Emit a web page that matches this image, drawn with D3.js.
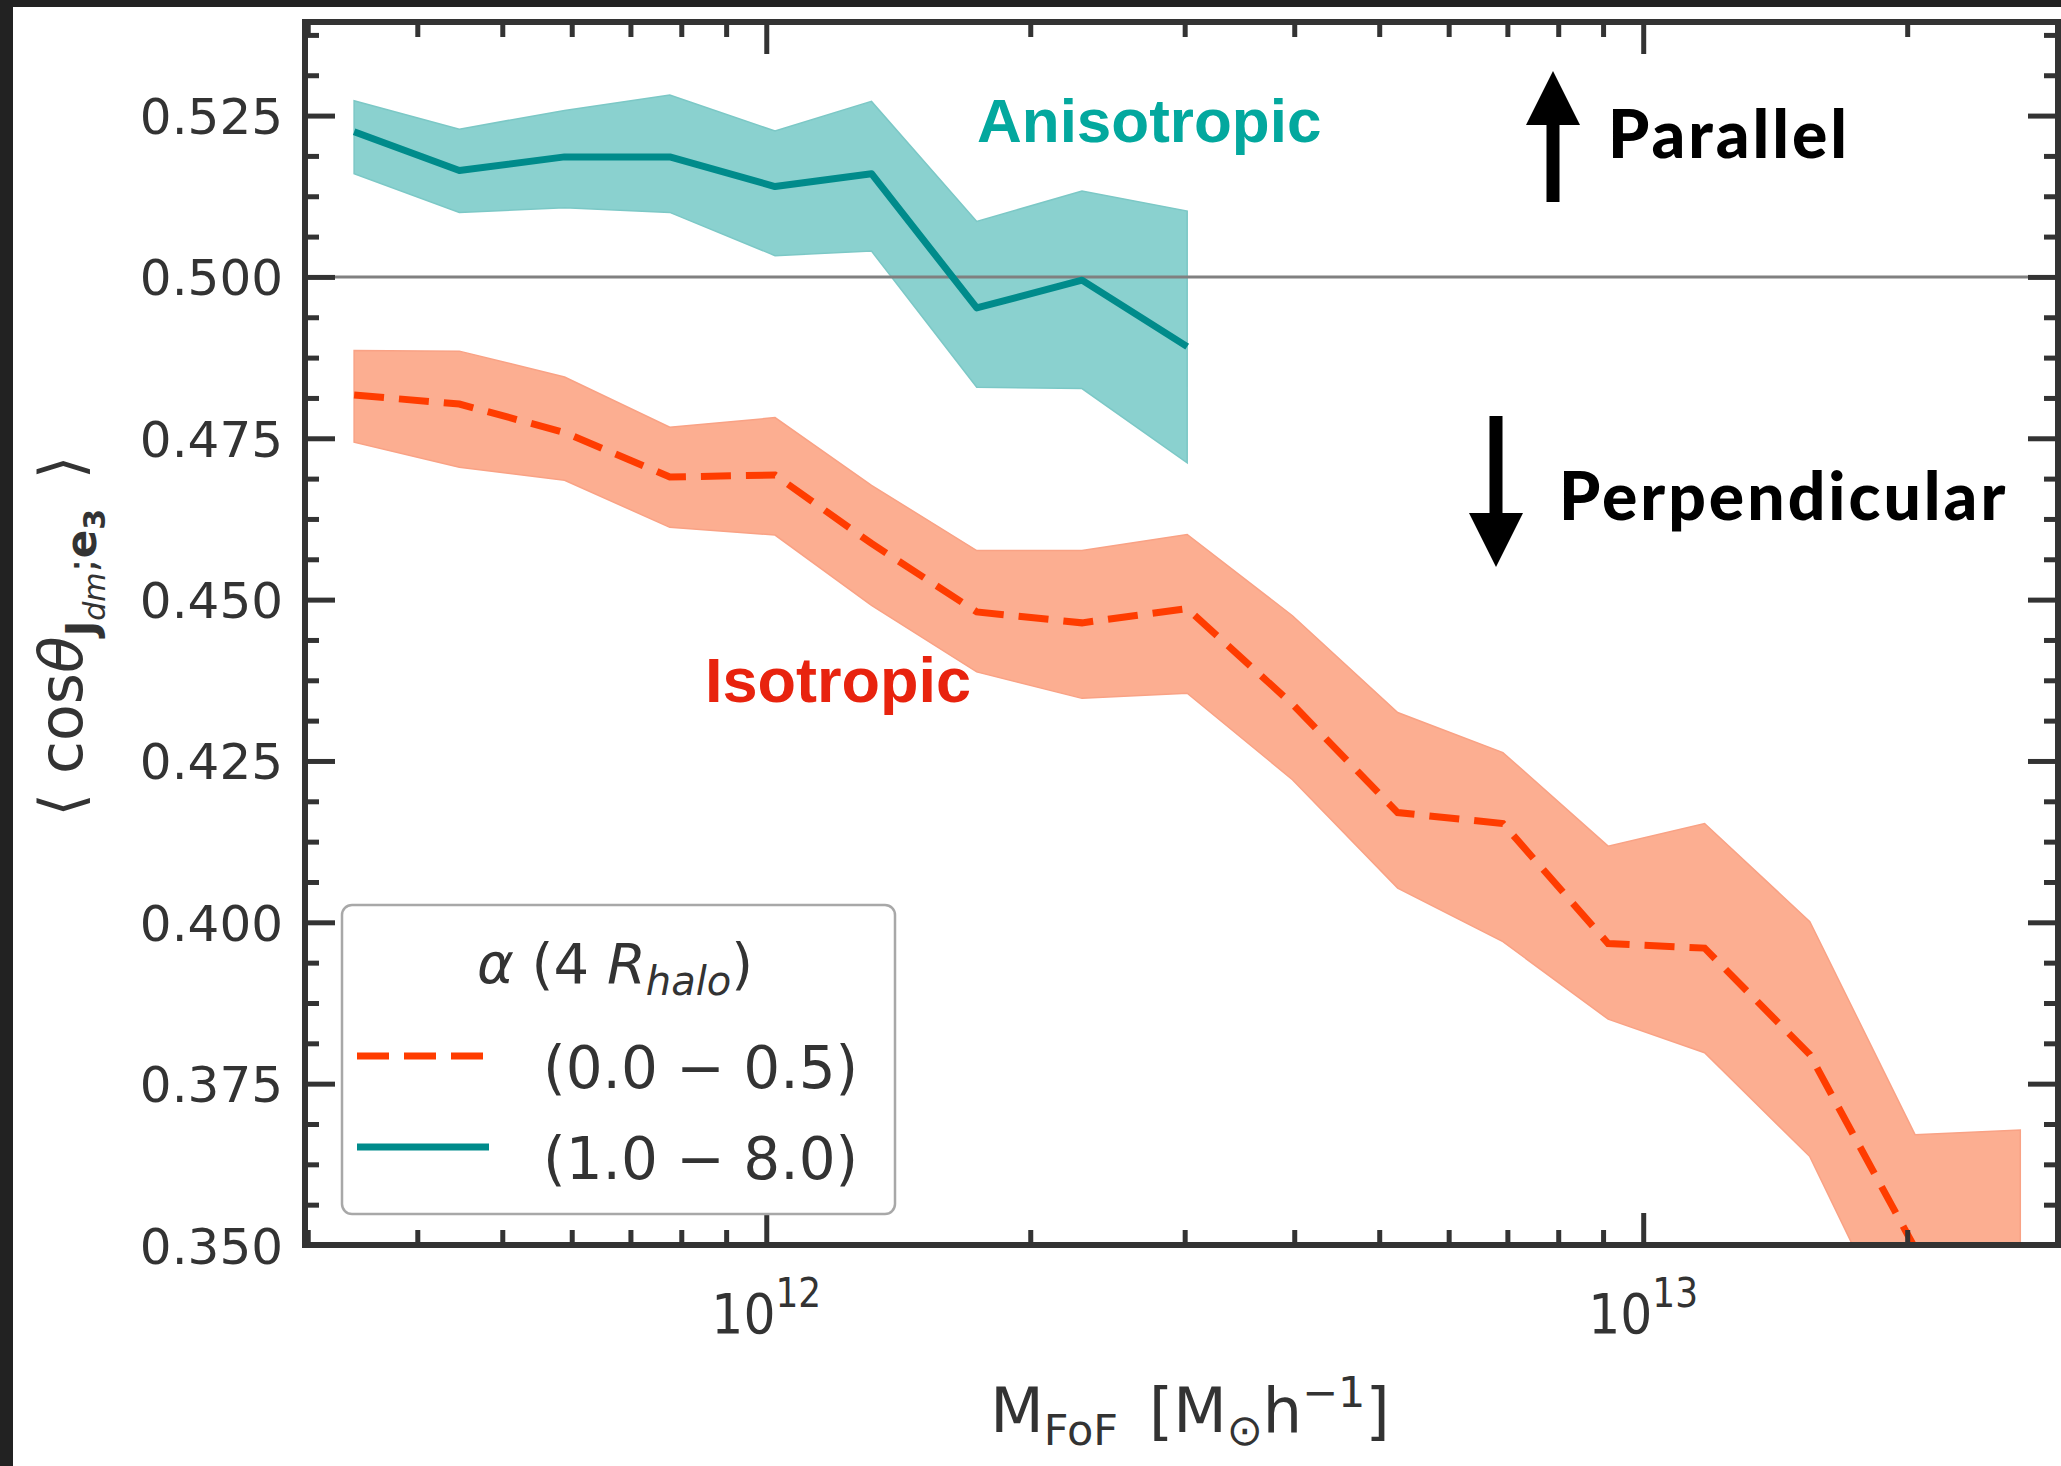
<!DOCTYPE html>
<html>
<head>
<meta charset="utf-8">
<script src="https://cdn.jsdelivr.net/npm/d3@7"></script>
<style>
  html, body { margin: 0; padding: 0; background: #fff; }
  svg { display: block; }
</style>
</head>
<body>
<main></main>
<script>
// halo mass bins, log10(M_FoF / M_sun h^-1)
const logMass = [11.53, 11.65, 11.77, 11.89, 12.01, 12.12, 12.24, 12.36, 12.48,
                 12.60, 12.72, 12.84, 12.96, 13.07, 13.19, 13.31, 13.43]

// isotropic, alpha (0.0 - 0.5)
const isoMean  = [0.4817, 0.4803, 0.4759, 0.4690, 0.4693, 0.4587, 0.4481, 0.4464, 0.4486,
                  0.4338, 0.4170, 0.4153, 0.3967, 0.3960, 0.3795, 0.3495, 0.3380]
const isoUpper = [0.4886, 0.4885, 0.4845, 0.4767, 0.4782, 0.4677, 0.4576, 0.4576, 0.4601,
                  0.4475, 0.4325, 0.4263, 0.4118, 0.4153, 0.4001, 0.3671, 0.3678]
const isoLower = [0.4744, 0.4705, 0.4685, 0.4612, 0.4600, 0.4491, 0.4388, 0.4347, 0.4355,
                  0.4221, 0.4053, 0.3970, 0.3850, 0.3798, 0.3637, 0.3300, 0.3280]

// anisotropic, alpha (1.0 - 8.0)
const aniMean  = [0.5225, 0.5165, 0.5186, 0.5186, 0.5140, 0.5160, 0.4952, 0.4995, 0.4892]
const aniUpper = [0.5273, 0.5229, 0.5258, 0.5282, 0.5226, 0.5272, 0.5086, 0.5133, 0.5102]
const aniLower = [0.5160, 0.5100, 0.5107, 0.5100, 0.5033, 0.5040, 0.4829, 0.4827, 0.4712]

const yTicks = [0.350, 0.375, 0.400, 0.425, 0.450, 0.475, 0.500, 0.525]
const xTicks = [1e12, 1e13]
const xTickExp = ["12", "13"]
const legendLabels = ["(0.0 \u2212 0.5)", "(1.0 \u2212 8.0)"]

const W = 2061
const H = 1466
const plot = { left: 305, right: 2058, top: 22, bottom: 1245 }

const ink = "#333333"
const tealLine = "#008b8b"
const tealFill = "#8ad1cf"
const redLine = "#ff3c00"
const redFill = "#fcae91"

const svg = d3.select("main").append("svg").attr("width", W).attr("height", H)

svg.append("rect").attr("width", W).attr("height", H).attr("fill", "#fff")
// dark screenshot border
svg.append("rect").attr("width", W).attr("height", 7).attr("fill", "#222")
svg.append("rect").attr("width", 13).attr("height", H).attr("fill", "#222")

const x = d3.scaleLog().domain([10 ** 11.474, 10 ** 13.473]).range([plot.left, plot.right])
const y = d3.scaleLinear().domain([0.35, 0.5395]).range([plot.bottom, plot.top])

svg.append("clipPath").attr("id", "clip")
  .append("rect")
  .attr("x", plot.left).attr("y", plot.top)
  .attr("width", plot.right - plot.left).attr("height", plot.bottom - plot.top)

const iso = logMass.map((m, i) => ({ m: 10 ** m, mean: isoMean[i], hi: isoUpper[i], lo: isoLower[i] }))
const ani = aniMean.map((v, i) => ({ m: 10 ** logMass[i], mean: v, hi: aniUpper[i], lo: aniLower[i] }))

const area = d3.area().x((d) => x(d.m)).y0((d) => y(d.lo)).y1((d) => y(d.hi))
const line = d3.line().x((d) => x(d.m)).y((d) => y(d.mean))

const g = svg.append("g").attr("clip-path", "url(#clip)")

g.append("path").datum(iso).attr("d", area)
  .attr("fill", redFill).attr("stroke", "#f9a285").attr("stroke-width", 1.5)
g.append("path").datum(ani).attr("d", area)
  .attr("fill", tealFill).attr("stroke", "#7cc8c6").attr("stroke-width", 1.5)

// 0.5 reference line
g.append("line")
  .attr("x1", plot.left).attr("x2", plot.right)
  .attr("y1", y(0.5)).attr("y2", y(0.5))
  .attr("stroke", "#808080").attr("stroke-width", 3)

g.append("path").datum(iso).attr("d", line)
  .attr("fill", "none").attr("stroke", redLine).attr("stroke-width", 7)
  .attr("stroke-dasharray", "30,15")
g.append("path").datum(ani).attr("d", line)
  .attr("fill", "none").attr("stroke", tealLine).attr("stroke-width", 7)
  .attr("stroke-linejoin", "round")

// ticks
const yMinor = []
yTicks.forEach((t) => [1, 2, 3].forEach((k) => yMinor.push(t + k * 0.00625)))
const xMinor = []
;[1e11, 1e12, 1e13].forEach((p) => d3.range(2, 10).forEach((k) => {
  const v = p * k
  if (v >= x.domain()[0] && v <= x.domain()[1]) xMinor.push(v)
}))

const styleAxis = (sel) => {
  sel.select(".domain").remove()
  sel.selectAll(".tick line").attr("stroke", ink).attr("stroke-width", 5)
  sel.selectAll(".tick text").attr("fill", ink)
}

svg.append("g").attr("transform", `translate(${plot.left},0)`)
  .call(d3.axisLeft(y).tickValues(yTicks).tickSize(-30).tickPadding(22).tickFormat(d3.format(".3f")))
  .call(styleAxis)
  .selectAll("text").attr("font-family", "DejaVu Sans").attr("font-size", 50).attr("dy", "0.36em")
svg.append("g").attr("transform", `translate(${plot.left},0)`)
  .call(d3.axisLeft(y).tickValues(yMinor).tickSize(-14).tickFormat(""))
  .call(styleAxis)
svg.append("g").attr("transform", `translate(${plot.right},0)`)
  .call(d3.axisRight(y).tickValues(yTicks).tickSize(-30).tickFormat(""))
  .call(styleAxis)
svg.append("g").attr("transform", `translate(${plot.right},0)`)
  .call(d3.axisRight(y).tickValues(yMinor).tickSize(-14).tickFormat(""))
  .call(styleAxis)

svg.append("g").attr("transform", `translate(0,${plot.bottom})`)
  .call(d3.axisBottom(x).tickValues(xTicks).tickSize(-32).tickFormat(""))
  .call(styleAxis)
svg.append("g").attr("transform", `translate(0,${plot.bottom})`)
  .call(d3.axisBottom(x).tickValues(xMinor).tickSize(-15).tickFormat(""))
  .call(styleAxis)
svg.append("g").attr("transform", `translate(0,${plot.top})`)
  .call(d3.axisTop(x).tickValues(xTicks).tickSize(-32).tickFormat(""))
  .call(styleAxis)
svg.append("g").attr("transform", `translate(0,${plot.top})`)
  .call(d3.axisTop(x).tickValues(xMinor).tickSize(-15).tickFormat(""))
  .call(styleAxis)

// frame
svg.append("rect")
  .attr("x", plot.left).attr("y", plot.top)
  .attr("width", plot.right - plot.left).attr("height", plot.bottom - plot.top)
  .attr("fill", "none").attr("stroke", ink).attr("stroke-width", 6)

// x tick labels 10^n
xTicks.forEach((v, i) => {
  const t = svg.append("text")
    .attr("x", x(v)).attr("y", 1333)
    .attr("text-anchor", "middle")
    .attr("font-family", "DejaVu Sans").attr("font-stretch", "condensed")
    .attr("font-size", 56).attr("fill", ink)
  t.append("tspan").text("10")
  t.append("tspan").attr("dy", -26).attr("font-size", 40).text(xTickExp[i])
})

// x axis label
const xl = svg.append("text")
  .attr("x", 1190).attr("y", 1432)
  .attr("text-anchor", "middle")
  .attr("font-family", "DejaVu Sans")
  .attr("font-size", 62).attr("fill", ink)
xl.append("tspan").text("M")
xl.append("tspan").attr("dy", 13).attr("font-size", 43).text("FoF")
xl.append("tspan").attr("dy", -13).text("\u2002[M")
xl.append("tspan").attr("dy", 13).attr("font-size", 43).text("\u2299")
xl.append("tspan").attr("dy", -13).text("h")
xl.append("tspan").attr("dy", -25).attr("font-size", 43).text("\u22121")
xl.append("tspan").attr("dy", 25).text("]")

// y axis label
const yl = svg.append("text")
  .attr("transform", "translate(82,636) rotate(-90)")
  .attr("text-anchor", "middle")
  .attr("font-family", "DejaVu Sans")
  .attr("font-size", 60).attr("fill", ink)
yl.append("tspan").text("\u27E8 cos")
yl.append("tspan").attr("font-style", "italic").text("\u03B8")
yl.append("tspan").attr("dy", 14).attr("font-size", 42).attr("font-weight", "bold").text("J")
yl.append("tspan").attr("dy", 9).attr("font-size", 30).attr("font-style", "italic").text("dm")
yl.append("tspan").attr("dy", -9).attr("font-size", 42).text(";")
yl.append("tspan").attr("font-size", 42).attr("font-weight", "bold").text("e")
yl.append("tspan").attr("dy", 9).attr("font-size", 30).attr("font-weight", "bold").text("3")
yl.append("tspan").attr("dy", -23).text("\u2002\u27E9")

// annotations
svg.append("text").attr("x", 977).attr("y", 142)
  .attr("font-family", "Liberation Sans, Arial, sans-serif").attr("font-weight", "bold")
  .attr("font-size", 62).attr("fill", "#03a89e").text("Anisotropic")
svg.append("text").attr("x", 705).attr("y", 702)
  .attr("font-family", "Liberation Sans, Arial, sans-serif").attr("font-weight", "bold")
  .attr("font-size", 63).attr("fill", "#e8230e").text("Isotropic")

svg.append("text").attr("x", 1608).attr("y", 158)
  .attr("font-family", "Lato").attr("font-weight", 900).attr("letter-spacing", 3)
  .attr("font-size", 66).attr("fill", "#000").text("Parallel")
svg.append("text").attr("x", 1559).attr("y", 520)
  .attr("font-family", "Lato").attr("font-weight", 900).attr("letter-spacing", 3)
  .attr("font-size", 66).attr("fill", "#000").text("Perpendicular")

// arrows
const arrow = (cx, tail, tip) => {
  const dir = tip < tail ? 1 : -1
  const base = tip + dir * 54
  return `M${cx - 6.5},${tail} L${cx + 6.5},${tail} L${cx + 6.5},${base} L${cx + 27},${base} ` +
    `L${cx},${tip} L${cx - 27},${base} L${cx - 6.5},${base} Z`
}
svg.append("path").attr("d", arrow(1553, 202, 71)).attr("fill", "#000")
svg.append("path").attr("d", arrow(1496, 416, 567)).attr("fill", "#000")

// legend
const lg = svg.append("g")
lg.append("rect")
  .attr("x", 342).attr("y", 905).attr("width", 553).attr("height", 309)
  .attr("rx", 10).attr("fill", "#fff").attr("fill-opacity", 0.85)
  .attr("stroke", "#a8a8a8").attr("stroke-width", 2.5)
const lt = lg.append("text").attr("x", 615).attr("y", 983)
  .attr("text-anchor", "middle")
  .attr("font-family", "DejaVu Sans").attr("font-size", 56).attr("fill", ink)
lt.append("tspan").attr("font-style", "italic").text("\u03B1")
lt.append("tspan").text(" (4 ")
lt.append("tspan").attr("font-style", "italic").text("R")
lt.append("tspan").attr("dy", 12).attr("font-size", 40).attr("font-style", "italic").text("halo")
lt.append("tspan").attr("dy", -12).text(")")

const entries = [
  { label: legendLabels[0], color: redLine, dash: "32,15", y: 1056 },
  { label: legendLabels[1], color: tealLine, dash: null, y: 1147 },
]
entries.forEach((e) => {
  lg.append("line")
    .attr("x1", 357).attr("x2", 489).attr("y1", e.y).attr("y2", e.y)
    .attr("stroke", e.color).attr("stroke-width", 7)
    .attr("stroke-dasharray", e.dash)
  lg.append("text")
    .attr("x", 543).attr("y", e.y + 32)
    .attr("font-family", "DejaVu Sans").attr("font-size", 58).attr("fill", ink)
    .text(e.label)
})
</script>
</body>
</html>
